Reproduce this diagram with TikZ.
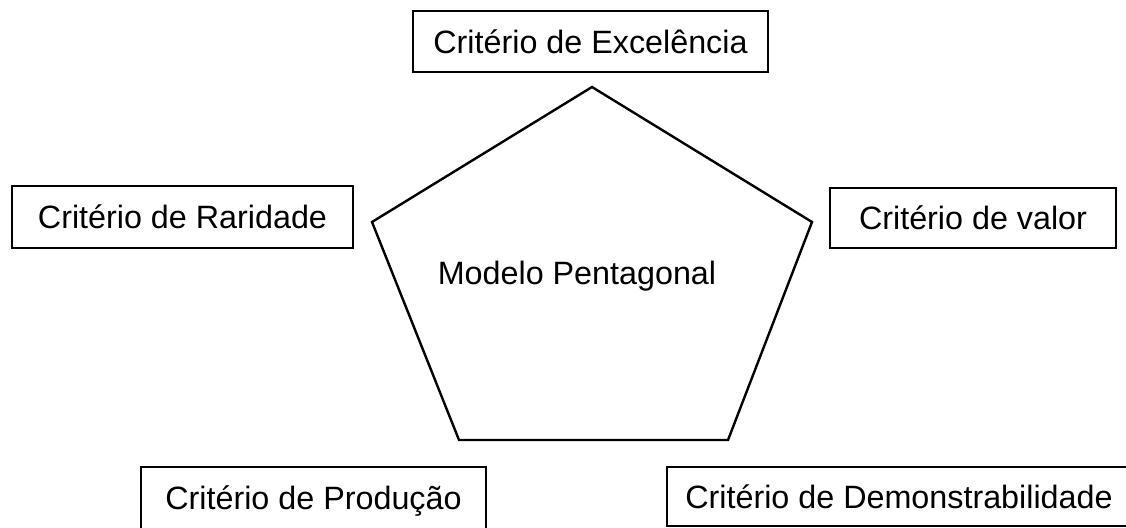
\documentclass[tikz,border=0pt]{standalone}
\usepackage{fontspec}
\setmainfont{Liberation Sans}
\begin{document}
\begin{tikzpicture}[x=1pt,y=-1pt,
  crit/.style={draw=black,line width=1.8pt,rectangle,inner sep=0pt,
    font=\fontsize{32.3}{37}\selectfont,text height=23.1pt,text depth=0pt},
  pent/.style={draw=black,line width=2.4pt,line join=miter}]
\fill[white] (0,0) rectangle (1126,527);
\useasboundingbox (0,0) rectangle (1126,527);
\node[crit,minimum width=355pt,minimum height=61pt] (exc) at (590.5,41.5) {Critério de Excelência};
\node[crit,minimum width=341pt,minimum height=62pt] (rar) at (182.5,217) {Critério de Raridade};
\node[crit,minimum width=286pt,minimum height=60pt] (val) at (973,218) {Critério de valor};
\node[crit,minimum width=345pt,minimum height=62pt] (prod) at (313.5,498) {Critério de Produção};
\node[crit,minimum width=464pt,minimum height=59pt] (dem) at (899,496.5) {Critério de Demonstrabilidade};
\draw[pent] (592,87) -- (812,222) -- (728,440) -- (459,440) -- (372,222) -- cycle;
\node[font=\fontsize{32.3}{37}\selectfont,inner sep=0pt] (model) at (577,276) {Modelo Pentagonal};
\end{tikzpicture}
\end{document}
